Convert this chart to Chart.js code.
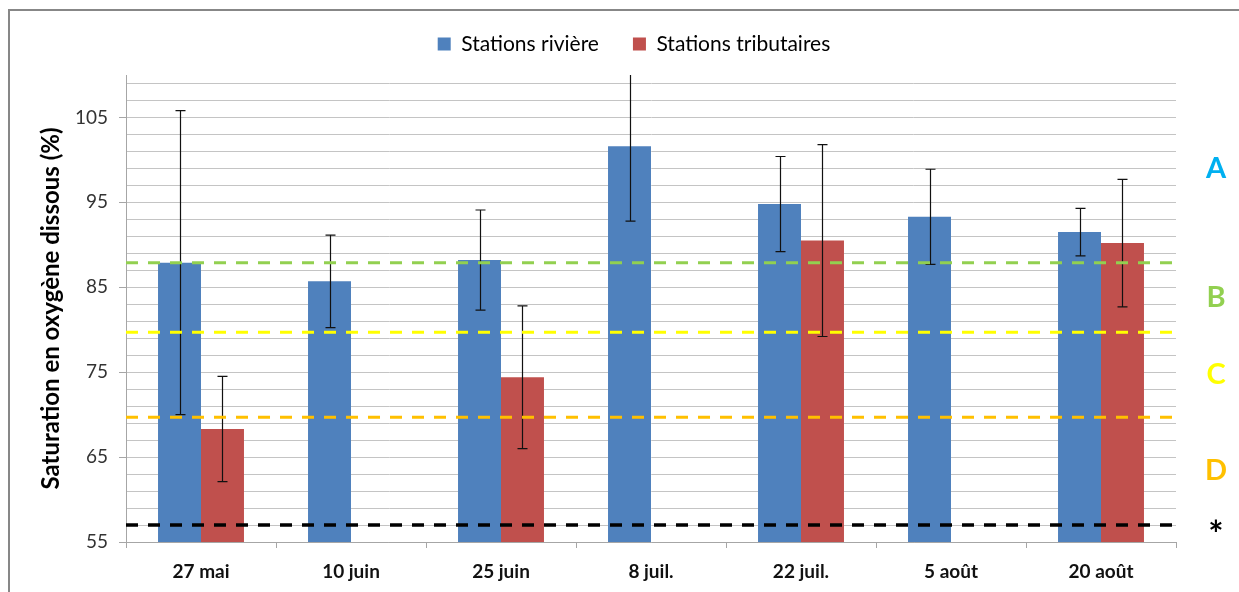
<!DOCTYPE html>
<html>
<head>
<meta charset="utf-8">
<script src="https://cdn.jsdelivr.net/npm/chart.js@4/dist/chart.umd.min.js"></script>
<style>
  html, body { margin: 0; padding: 0; background: #fff; }
  #wrap { width: 1239px; height: 592px; }
</style>
</head>
<body>
<div id="wrap"><canvas id="c" width="1239" height="592"></canvas></div>
<script>
// Saturation en oxygène dissous, moyennes par campagne (± écart-type)
const categories = ['27 mai', '10 juin', '25 juin', '8 juil.', '22 juil.', '5 août', '20 août'];
const riviere = [87.9, 85.7, 88.2, 101.6, 94.8, 93.3, 91.5];
const riviereErr = [17.9, 5.45, 5.9, 8.8, 5.6, 5.6, 2.8];
const tributaires = [68.3, null, 74.4, null, 90.5, null, 90.2];
const tributairesErr = [6.2, null, 8.4, null, 11.3, null, 7.5];

// Seuils des classes de qualité (lignes pointillées) et étiquettes des classes
const seuils = [87.9, 79.7, 69.7, 57];
const seuilCouleurs = ['#92D050', '#FFFF00', '#FFC000', '#000000'];
const classes = ['A', 'B', 'C', 'D', '*'];
const classeCouleurs = ['#00B0F0', '#92D050', '#FFFF00', '#FFC000', '#000000'];

// Axe vertical
const yMin = 55, yMax = 110, yGridStep = 2, yLabelStep = 10;
const yTicks = [];
for (let v = yMin; v < yMax; v += yGridStep) yTicks.push(v);

const FONT = 'Lato, "Open Sans", sans-serif';
const isMajor = v => Math.abs((v - yMin) % yLabelStep) < 1e-6;

// Cadre gris autour du graphique
const framePlugin = {
  id: 'frame',
  beforeDraw(chart) {
    const ctx = chart.ctx;
    ctx.save();
    ctx.fillStyle = '#fff';
    ctx.fillRect(0, 0, chart.width, chart.height);
    ctx.strokeStyle = '#878787';
    ctx.lineWidth = 2;
    ctx.strokeRect(9, 10, chart.width + 20, chart.height + 20);
    ctx.restore();
  }
};

// Légende recentrée sur la figure et remontée au-dessus de la zone de tracé
const legendShift = {
  id: 'legendShift',
  afterLayout(chart) {
    const lg = chart.legend;
    if (!lg) return;
    lg.left += 46; lg.right += 46;
    lg.top -= 10.5; lg.bottom -= 10.5;
  }
};

// Barres d'erreur puis lignes de seuil, et lettres des classes à droite
const overlayPlugin = {
  id: 'overlay',
  afterDatasetsDraw(chart) {
    const ctx = chart.ctx;
    const area = chart.chartArea;
    const y = chart.scales.y;
    const errs = [riviereErr, tributairesErr];

    ctx.save();
    ctx.beginPath();
    ctx.rect(area.left, area.top, area.right - area.left, area.bottom - area.top);
    ctx.clip();

    chart.data.datasets.forEach((ds, di) => {
      const meta = chart.getDatasetMeta(di);
      meta.data.forEach((bar, i) => {
        const v = ds.data[i];
        const e = errs[di][i];
        if (v == null || e == null) return;
        const x = Math.round(bar.x) + 0.5;
        const yHi = y.getPixelForValue(v + e);
        const yLo = y.getPixelForValue(v - e);
        ctx.strokeStyle = '#111';
        ctx.lineWidth = 1.2;
        ctx.beginPath();
        ctx.moveTo(x, yHi); ctx.lineTo(x, yLo);
        ctx.moveTo(x - 5, yHi); ctx.lineTo(x + 5, yHi);
        ctx.moveTo(x - 5, yLo); ctx.lineTo(x + 5, yLo);
        ctx.stroke();
      });
    });

    seuils.forEach((s, i) => {
      const py = y.getPixelForValue(s);
      ctx.strokeStyle = seuilCouleurs[i];
      ctx.lineWidth = i === seuils.length - 1 ? 3.5 : 3;
      ctx.setLineDash([12, 10]);
      ctx.beginPath();
      ctx.moveTo(area.left, py);
      ctx.lineTo(area.right + 3, py);
      ctx.stroke();
    });
    ctx.restore();

    // Lettres des classes, au milieu de chaque zone
    const bornes = [yMax, ...seuils];
    ctx.save();
    ctx.textAlign = 'center';
    ctx.textBaseline = 'middle';
    classes.forEach((c, i) => {
      const val = i < seuils.length ? (bornes[i] + bornes[i + 1]) / 2 : seuils[seuils.length - 1];
      let py = y.getPixelForValue(val);
      if (c === '*') {
        ctx.font = 'bold 36px ' + FONT;
        py += 10;
      } else {
        ctx.font = 'bold 29px ' + FONT;
      }
      ctx.fillStyle = classeCouleurs[i];
      ctx.fillText(c, area.right + 40, py);
    });
    ctx.restore();
  }
};

new Chart(document.getElementById('c'), {
  type: 'bar',
  data: {
    labels: categories,
    datasets: [
      { label: 'Stations rivière', data: riviere, backgroundColor: '#4F81BD', borderWidth: 0,
        barPercentage: 1, categoryPercentage: 0.573 },
      { label: 'Stations tributaires', data: tributaires, backgroundColor: '#C0504D', borderWidth: 0,
        barPercentage: 1, categoryPercentage: 0.573 }
    ]
  },
  options: {
    responsive: false,
    devicePixelRatio: 1,
    animation: false,
    layout: { padding: { top: 10, left: 0, right: 63, bottom: 0 } },
    plugins: {
      legend: {
        position: 'top',
        labels: {
          boxWidth: 13, boxHeight: 13, padding: 34,
          color: '#000',
          font: { family: FONT, size: 21 }
        }
      },
      tooltip: { enabled: false }
    },
    scales: {
      x: {
        offset: true,
        grid: { offset: true, drawOnChartArea: false, drawTicks: true, tickLength: 6, color: '#a6a6a6' },
        border: { color: '#a6a6a6', width: 1 },
        ticks: { padding: 12, color: '#111', font: { family: FONT, size: 19, weight: 'bold' } },
        afterFit(s) { s.height = 50; }
      },
      y: {
        min: yMin,
        max: yMax,
        afterBuildTicks(s) { s.ticks = yTicks.map(v => ({ value: v })); },
        grid: {
          color: '#c4c4c4',
          tickLength: 7,
          tickColor: ctx => (ctx.tick && isMajor(ctx.tick.value)) ? '#a6a6a6' : 'rgba(0,0,0,0)'
        },
        border: { color: '#a6a6a6', width: 1 },
        ticks: {
          padding: 11,
          color: '#333',
          font: { family: FONT, size: 19 },
          autoSkip: false,
          callback: v => isMajor(v) ? String(v) : ''
        },
        title: {
          display: true,
          text: 'Saturation en oxygène dissous (%)',
          color: '#000',
          font: { family: FONT, size: 24, weight: 'bold' },
          padding: { top: 37, bottom: 0 }
        },
        afterFit(s) { s.width = 126; }
      }
    }
  },
  plugins: [framePlugin, legendShift, overlayPlugin]
});
</script>
</body>
</html>
